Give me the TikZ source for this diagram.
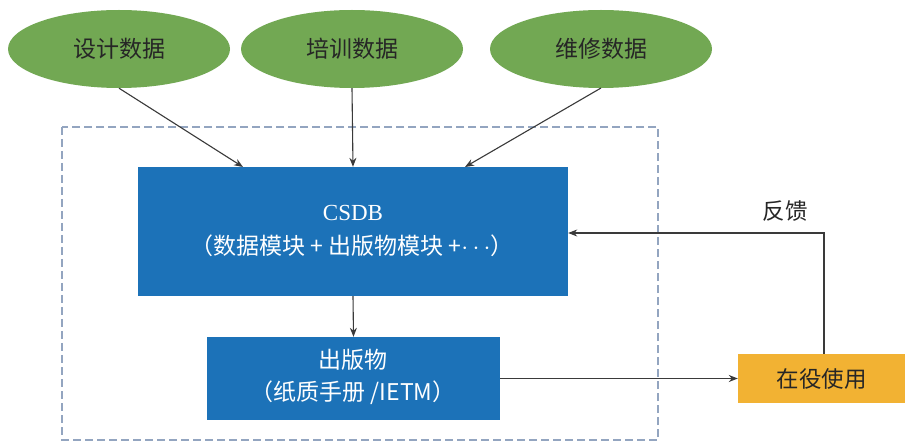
\documentclass[tikz,border=0pt]{standalone}
\usepackage{fontspec}
\setmainfont{Liberation Serif}
\newfontfamily\cjk{Noto Sans CJK SC}
\usetikzlibrary{shapes.geometric,arrows.meta}
\definecolor{egreen}{HTML}{72A853}
\definecolor{bblue}{HTML}{1C72B8}
\definecolor{oyellow}{HTML}{F2B233}
\definecolor{dashc}{HTML}{93A5C0}
\definecolor{arrc}{HTML}{3A3A3A}
\tikzset{
  src/.style={ellipse, fill=egreen, minimum width=222pt, minimum height=78pt, inner sep=0pt, font=\cjk\fontsize{23}{26}\selectfont, text=black!85},
  bluebox/.style={rectangle, fill=bblue, text=white, inner sep=0pt, align=center},
  conn/.style={draw=arrc, line width=1.1pt, -{Stealth[length=9pt,width=7pt]}},
  wtxt/.style={text=white, font=\cjk\fontsize{23}{26}\selectfont},
}
\begin{document}
\begin{tikzpicture}[x=1pt,y=-1pt]
\useasboundingbox (0,0) rectangle (905,446);
\fill[white] (0,0) rectangle (905,446);
% dashed frame
\draw[dashc, line width=1.6pt, dash pattern=on 8pt off 4pt] (62,127) rectangle (658,440);
% ellipses
\node[src] (e1) at (119,49) {设计数据};
\node[src] (e2) at (352,49) {培训数据};
\node[src] (e3) at (601,49) {维修数据};
% CSDB box
\node[bluebox, minimum width=430pt, minimum height=129pt] (csdb) at (353,231.5) {};
\node[text=white, font=\fontsize{23}{26}\selectfont] (t1) at (353,213) {CSDB};
\node[wtxt] (t2) at (352,246) {（数据模块 + 出版物模块 +$\cdots$）};
% publication box
\node[bluebox, minimum width=293pt, minimum height=83pt] (pub) at (353.5,378.5) {};
\node[wtxt] (p1) at (353,360) {出版物};
\node[wtxt] (p2) at (353,393) {（纸质手册 /IETM）};
% in service
\node[rectangle, fill=oyellow, minimum width=167pt, minimum height=49pt, inner sep=0pt, font=\cjk\fontsize{22.5}{26}\selectfont, text=black!85] (use) at (821.5,378.5) {在役使用};
% connectors
\coordinate (c1) at (243,167);
\coordinate (c3) at (465,167);
\draw[conn] (e1.south) -- (c1);
\draw[conn] (e2.south) -- (csdb.north);
\draw[conn] (601,88) -- (c3);
\draw[conn] (csdb.south) -- (pub.north);
\draw[conn] (pub.east |- use.west) -- (use.west);
\coordinate (fb) at (824,233);
\draw[conn] (use.north -| fb) -- (fb) -- (csdb.east |- fb);
\node[font=\cjk\fontsize{22.5}{26}\selectfont, text=black!85] (lbl) at (785,211) {反馈};
\end{tikzpicture}
\end{document}
